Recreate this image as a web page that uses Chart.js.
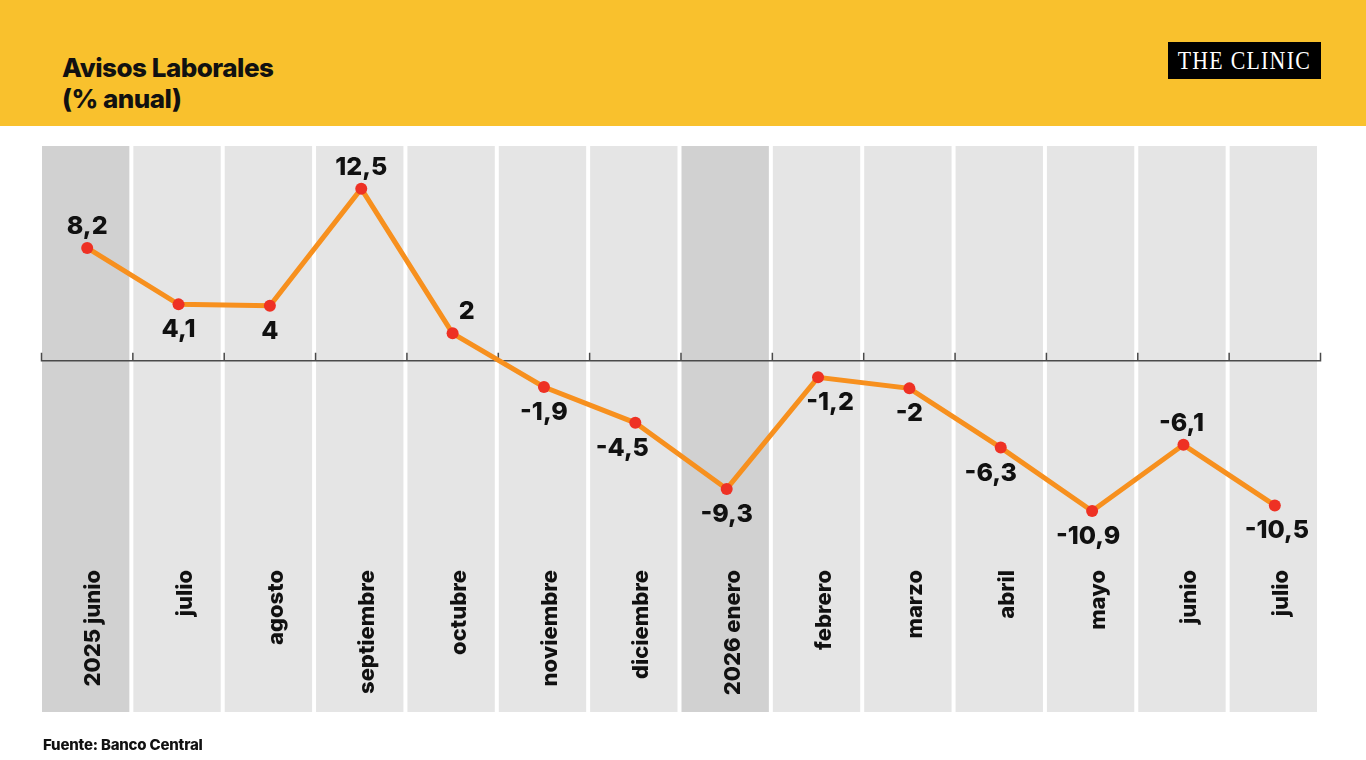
<!DOCTYPE html>
<html lang="es">
<head>
<meta charset="utf-8">
<title>Avisos Laborales (% anual)</title>
<script src="https://cdn.jsdelivr.net/npm/chart.js@4.4.1/dist/chart.umd.min.js"></script>
<style>
    html, body { margin: 0; padding: 0; background: #fff; }
    body { width: 1366px; height: 760px; position: relative; overflow: hidden; font-family: Inter, "Noto Sans", sans-serif; color: #111; }
    .cabecera { position: absolute; left: 0; top: 0; width: 1366px; height: 126px; background: #F9C12D; }
    .titulo { position: absolute; left: 62px; top: 52px; font-size: 26px; font-weight: 800; line-height: 31px; letter-spacing: -0.5px; }
    .logo { position: absolute; left: 1168px; top: 42px; width: 153px; height: 37px; background: #000; color: #fff;
            display: flex; align-items: center; justify-content: center; overflow: hidden;
            font-family: "Liberation Serif", "DejaVu Serif", serif; font-size: 26px; letter-spacing: 1.5px; }
    .logo span { display: inline-block; transform: scaleX(0.84); white-space: nowrap; }
    .fuente { position: absolute; left: 43px; top: 735px; font-size: 15px; font-weight: 800; letter-spacing: -0.2px; }
    .contenedor { position: absolute; left: 0; top: 0; width: 1366px; height: 760px; }
</style>
</head>
<body>
<div class="cabecera">
    <div class="titulo">Avisos Laborales<br>(% anual)</div>
    <div class="logo"><span>THE CLINIC</span></div>
</div>
<div class="contenedor"><canvas id="grafico-avisos"></canvas></div>
<div class="fuente">Fuente: Banco Central</div>

<script>
/*
    ********************************
        datos del grafico
    ********************************
*/
const meses = ["2025 junio", "julio", "agosto", "septiembre", "octubre", "noviembre", "diciembre",
               "2026 enero", "febrero", "marzo", "abril", "mayo", "junio", "julio"];
const avisos = [8.2, 4.1, 4, 12.5, 2, -1.9, -4.5, -9.3, -1.2, -2, -6.3, -10.9, -6.1, -10.5];
const etiquetas = avisos.map(v => String(v).replace(".", ","));


/*
    ********************************
    columnas grises, meses y eje cero
    ********************************
*/
const fondoColumnas = {
    id: "fondoColumnas",
    beforeDatasetsDraw(chart) {
        const { ctx, chartArea, scales } = chart;
        const paso = chartArea.width / meses.length;
        const alto = chartArea.bottom - chartArea.top;

        ctx.save();
        for (let i = 0; i < meses.length; i++) {
            const izq = chartArea.left + i * paso;
            // los meses que abren un año van mas oscuros
            ctx.fillStyle = /^\d{4}/.test(meses[i]) ? "#D1D1D1" : "#E5E5E5";
            ctx.fillRect(izq + 0.5, chartArea.top, paso - 4, alto);
        }

        ctx.fillStyle = "#111";
        ctx.font = "800 22px Inter, 'Noto Sans', sans-serif";
        ctx.textAlign = "right";
        ctx.textBaseline = "alphabetic";
        for (let i = 0; i < meses.length; i++) {
            const cx = scales.x.getPixelForValue(i);
            ctx.save();
            ctx.translate(cx + 13, 570);
            ctx.rotate(-Math.PI / 2);
            ctx.fillText(meses[i], 0, 0);
            ctx.restore();
        }

        // linea del cero con marcas hacia arriba
        const cero = scales.y.getPixelForValue(0);
        ctx.strokeStyle = "#4A4A4A";
        ctx.lineWidth = 1.5;
        ctx.beginPath();
        ctx.moveTo(chartArea.left, cero);
        ctx.lineTo(chartArea.right, cero);
        for (let i = 0; i <= meses.length; i++) {
            const tx = chartArea.left + i * paso;
            ctx.moveTo(tx, cero + 0.75);
            ctx.lineTo(tx, cero - 8);
        }
        ctx.stroke();
        ctx.restore();
    }
};


/*
    ********************************
    valores encima o debajo del punto
    ********************************
*/
const valoresPuntos = {
    id: "valoresPuntos",
    afterDatasetsDraw(chart, args, opts) {
        const { ctx } = chart;
        const puntos = chart.getDatasetMeta(0).data;

        ctx.save();
        ctx.fillStyle = "#111";
        ctx.font = "800 25px Inter, 'Noto Sans', sans-serif";
        ctx.textAlign = "center";
        ctx.textBaseline = "alphabetic";
        puntos.forEach((p, i) => {
            const dy = opts.arriba[i] ? -14 : 33;
            ctx.fillText(etiquetas[i], p.x + opts.dx[i], p.y + dy);
        });
        ctx.restore();
    }
};


const data = {
    labels: meses,
    datasets: [{
        label: "Avisos laborales",
        data: avisos,
        borderColor: "#F7901E",
        borderWidth: 5,
        tension: 0,
        pointRadius: 6,
        pointBorderWidth: 0,
        pointBackgroundColor: "#EE3124",
        clip: false
    }]
};

const config = {
    type: "line",
    data: data,
    options: {
        responsive: true,
        maintainAspectRatio: false,
        animation: false,
        events: [],
        layout: {
            padding: { left: 41.5, right: 45.5, top: 146, bottom: 48 }
        },
        scales: {
            x: { type: "category", offset: true, display: false },
            y: { min: -25.5, max: 15.6, display: false }
        },
        plugins: {
            legend: { display: false },
            tooltip: { enabled: false },
            valoresPuntos: {
                arriba: [true, false, false, true, true, false, false, false, false, false, false, false, true, false],
                dx: [0, 0, 0, 0, 14, 0, -13, 0, 12, 0, -10, -4, -2, 2]
            }
        }
    },
    plugins: [fondoColumnas, valoresPuntos]
};

const graficoAvisos = new Chart(document.querySelector("#grafico-avisos"), config);
</script>
</body>
</html>
